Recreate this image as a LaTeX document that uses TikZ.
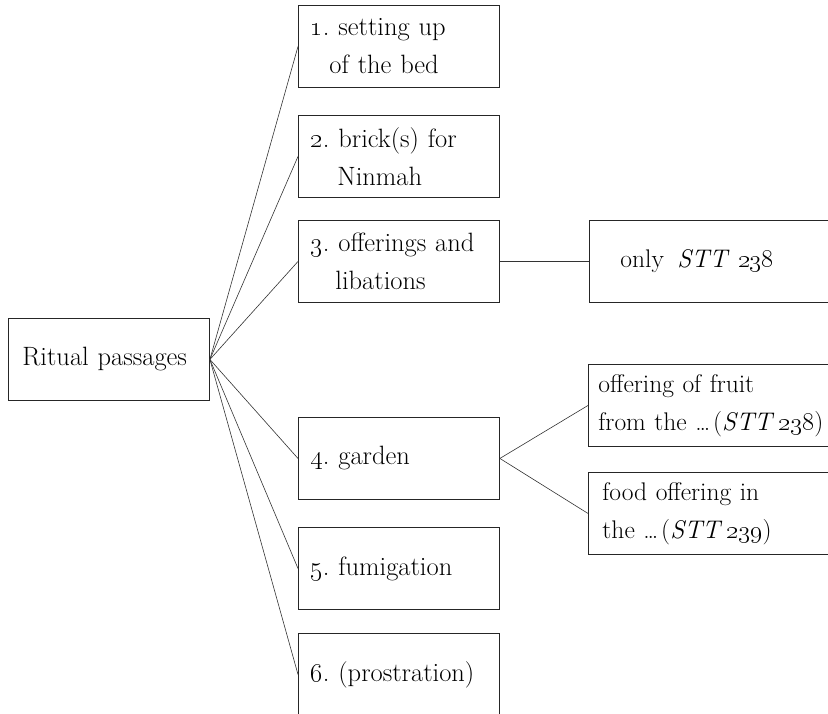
\RequirePackage{fix-cm}
\documentclass[tikz,border=0pt]{standalone}
\begin{document}
\begin{tikzpicture}[x=1pt,y=-1pt,
  lbl/.style={font=\fontsize{26.5}{38}\selectfont},
  box/.style={lbl, draw=black!85, line width=0.9pt, anchor=north west,
    minimum height=82pt, inner xsep=12pt, text width=177pt, align=left},
  rbox/.style={box, font=\fontsize{25.5}{38}\selectfont, inner xsep=10pt, text width=280pt},
  link/.style={draw=black!80, line width=0.6pt}]
\useasboundingbox (0,0) rectangle (828,713);
\clip (0,0) rectangle (828,713);

% root of the tree
\node[box, inner xsep=14pt, text width=173pt] (root) at (8,318) {Ritual passages};

% the six ritual passages
\node[box] (b1) at (298,5)   {\oldstylenums{1}.\ setting up\\\hspace*{19pt}of the bed};
\node[box] (b2) at (298,115) {\oldstylenums{2}.\ brick(s) for\\\hspace*{27pt}Ninmah};
\node[box] (b3) at (298,220) {\oldstylenums{3}.\ offerings and\\\hspace*{25pt}libations};
\node[box] (b4) at (298,417) {\oldstylenums{4}.\ garden};
\node[box] (b5) at (298,527) {\oldstylenums{5}.\ fumigation};
\node[box] (b6) at (298,633) {\oldstylenums{6}.\ (prostration)};

% details of passages 3 and 4
\node[rbox] (r3)  at (589,220) {\hspace*{21pt}only\hspace{5pt} \textit{STT} \oldstylenums{238}};
\node[rbox] (r4a) at (588,364) {offering of fruit\\from the \ldots\kern3pt(\textit{STT}\,\oldstylenums{238})};
\node[rbox] (r4b) at (588,472) {\hspace*{4pt}food offering in\\\hspace*{4pt}the \ldots\kern3pt(\textit{STT}\,\oldstylenums{239})};

% connectors
\foreach \b in {b1,b2,b3,b4,b5,b6}
  \draw[link] (root.east) -- (\b.west);
\draw[link] (b3.east) -- (r3.west);
\draw[link] (b4.east) -- (r4a.west);
\draw[link] (b4.east) -- (r4b.west);
\end{tikzpicture}
\end{document}
